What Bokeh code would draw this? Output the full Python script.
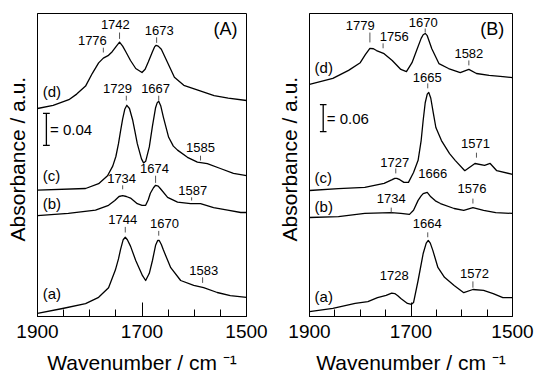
from bokeh.plotting import figure
from bokeh.layouts import row
from bokeh.models import Range1d, FixedTicker
from bokeh.core.properties import value
from bokeh.embed import file_html
from bokeh.resources import INLINE

FONT = "Liberation Sans"

# ---------------- Panel (A) spectra, absorbance in mAbs (offset stacked) ----------------
A_d_wn = [1900, 1870, 1840, 1825, 1808, 1795, 1783, 1774, 1765, 1757, 1749, 1743, 1737, 1731, 1722, 1712, 1700, 1694, 1688, 1680, 1676, 1673, 1669, 1663, 1650, 1638, 1620, 1593, 1562, 1535, 1500]
A_d_y = [260, 264, 271, 278, 288, 304, 317, 323, 326, 331, 338, 343, 338, 331, 320, 310, 305, 309, 318, 331, 337, 339, 338, 334, 316, 299, 289, 283, 276, 273, 270]

A_c_wn = [1900, 1808, 1783, 1766, 1756, 1750, 1745, 1741, 1737, 1733, 1729, 1724, 1718, 1714, 1709, 1701, 1697, 1693, 1686, 1680, 1674, 1671, 1668, 1664, 1659, 1649, 1640, 1632, 1613, 1594, 1575, 1550, 1525, 1500]
A_c_y = [158, 160, 166, 176, 188, 200, 216, 232, 247, 259, 264, 260, 246, 233, 216, 197, 192, 194, 212, 238, 261, 267, 269, 263, 249, 224, 213, 208, 199, 193, 191, 185, 179, 176]

A_b_wn = [1900, 1841, 1789, 1764, 1752, 1744, 1737, 1730, 1722, 1709, 1700, 1693, 1688, 1684, 1678, 1674, 1669, 1665, 1651, 1632, 1607, 1588, 1563, 1536, 1511, 1500]
A_b_y = [126, 129, 133, 139, 145, 150, 151, 150, 148, 141, 139, 139, 146, 154, 161, 164, 163, 160, 149, 143, 141, 141, 136, 133, 130, 130]

A_a_wn = [1900, 1852, 1808, 1783, 1764, 1751, 1745, 1741, 1736, 1732, 1728, 1722, 1712, 1699, 1693, 1686, 1680, 1674, 1670, 1667, 1663, 1659, 1645, 1626, 1601, 1582, 1556, 1531, 1500]
A_a_y = [4, 10, 16, 24, 36, 58, 72, 84, 96, 99, 96, 88, 70, 51, 45, 54, 70, 89, 95, 95, 90, 83, 61, 45, 39, 36, 30, 26, 24]

# ---------------- Panel (B) spectra ----------------
B_d_wn = [1900, 1854, 1823, 1800, 1790, 1781, 1774, 1768, 1753, 1737, 1720, 1709, 1698, 1689, 1680, 1676, 1672, 1668, 1659, 1645, 1626, 1603, 1586, 1571, 1546, 1519, 1500]
B_d_y = [516, 529, 547, 564, 582, 596, 595, 591, 584, 569, 549, 544, 564, 591, 618, 626, 629, 624, 595, 562, 551, 542, 549, 540, 536, 533, 531]

B_c_wn = [1900, 1843, 1791, 1753, 1737, 1732, 1728, 1722, 1714, 1705, 1695, 1686, 1680, 1676, 1672, 1668, 1665, 1661, 1656, 1651, 1640, 1624, 1613, 1594, 1574, 1555, 1544, 1531, 1500]
B_c_y = [280, 284, 287, 296, 304, 307, 307, 304, 298, 298, 320, 347, 391, 436, 475, 494, 498, 485, 452, 420, 391, 362, 347, 324, 340, 336, 340, 324, 316]

B_b_wn = [1900, 1843, 1791, 1739, 1720, 1703, 1695, 1686, 1680, 1676, 1668, 1661, 1652, 1642, 1615, 1596, 1578, 1557, 1533, 1500]
B_b_y = [220, 222, 229, 231, 229, 227, 236, 258, 268, 273, 276, 266, 257, 251, 240, 236, 242, 236, 231, 229]

B_a_wn = [1900, 1854, 1810, 1785, 1766, 1749, 1738, 1732, 1726, 1720, 1707, 1699, 1695, 1686, 1676, 1670, 1666, 1662, 1657, 1647, 1634, 1615, 1596, 1578, 1557, 1538, 1519, 1500]
B_a_y = [11, 18, 29, 33, 42, 47, 52, 51, 46, 40, 29, 27, 31, 80, 140, 163, 169, 163, 147, 109, 87, 69, 53, 60, 58, 51, 42, 42]

# ---------------- Peak annotations ----------------
A_peak_text = ["1776", "1742", "1673", "1729", "1667", "1585", "1734", "1674", "1587", "1744", "1670", "1583"]
A_peak_x = [1795, 1751, 1667, 1747, 1674, 1588, 1739, 1676, 1603, 1737, 1657, 1582]
A_peak_y = [345, 365, 357, 285, 285, 211, 172, 185, 157, 121, 116, 57]
A_tick_x = [1774, 1743, 1672, 1730, 1668, 1588, 1737, 1674, 1605, 1732, 1668, 1584]
A_tick_y0 = [330, 347, 342, 270, 270, 195, 159, 167, 145, 105, 101, 42]
A_tick_y1 = [336, 355, 349, 276, 276, 201, 164, 176, 149, 112, 107, 49]

B_peak_text = ["1779", "1756", "1670", "1582", "1665", "1571", "1727", "1666", "1576", "1734", "1664", "1728", "1572"]
B_peak_x = [1800, 1733, 1676, 1586, 1668, 1573, 1732, 1657, 1580, 1739, 1668, 1733, 1575]
B_peak_y = [647, 622, 653, 584, 531, 384, 342, 318, 284, 262, 207, 91, 96]
B_tick_x = [1781, 1755, 1672, 1586, 1667, 1571, 1730, 1578, 1739, 1667, 1578]
B_tick_y0 = [609, 596, 631, 558, 507, 353, 318, 251, 231, 176, 64]
B_tick_y1 = [631, 607, 640, 569, 518, 364, 329, 262, 242, 187, 78]

curve_names = ["(d)", "(c)", "(b)", "(a)"]
A_name_y = [281, 176, 141, 29]
B_name_y = [553, 309, 244, 44]

major_ticks = [1900, 1700, 1500]
minor_ticks = [1850, 1800, 1750, 1650, 1600, 1550]

A_scale = 40   # mAbs  (= 0.04)
B_scale = 60   # mAbs  (= 0.06)


def make_panel(width, left_border, right_border, ymax, curves, peak_text, peak_x, peak_y,
               tick_x, tick_y0, tick_y1, name_y, tag, scale_val, scale_label, scale_x, scale_y0):
    p = figure(width=width, height=380, output_backend="svg", toolbar_location=None,
               x_range=Range1d(1900, 1500), y_range=Range1d(0, ymax),
               min_border_left=left_border, min_border_right=right_border,
               min_border_top=13, min_border_bottom=64)
    p.background_fill_color = "white"
    p.border_fill_color = "white"
    p.grid.visible = False
    p.outline_line_color = "black"
    p.outline_line_width = 1
    p.outline_line_alpha = 1

    for xs, ys in curves:
        p.line(xs, ys, line_color="black", line_width=1.3, line_join="round")

    p.segment(x0=tick_x, y0=tick_y0, x1=tick_x, y1=tick_y1, line_color="#555555", line_width=1)
    p.text(x=peak_x, y=peak_y, text=peak_text, text_font=value(FONT), text_font_size="13px",
           text_align="center", text_baseline="middle", text_color="black")
    p.text(x=[1890] * 4, y=name_y, text=curve_names, text_font=value(FONT), text_font_size="15px",
           text_align="left", text_baseline="middle", text_color="black")
    p.text(x=[1540], y=[ymax - 0.05 * ymax], text=[tag], text_font=value(FONT), text_font_size="18px",
           text_align="center", text_baseline="middle", text_color="black")

    # scale bar
    cap = 6.5
    p.segment(x0=[scale_x], y0=[scale_y0], x1=[scale_x], y1=[scale_y0 + scale_val],
              line_color="black", line_width=1.3)
    p.segment(x0=[scale_x + cap, scale_x + cap], y0=[scale_y0, scale_y0 + scale_val],
              x1=[scale_x - cap, scale_x - cap], y1=[scale_y0, scale_y0 + scale_val],
              line_color="black", line_width=1.3)
    p.text(x=[scale_x - 7], y=[scale_y0 + scale_val / 2], text=[scale_label], text_font=value(FONT),
           text_font_size="15px", text_align="left", text_baseline="middle", text_color="black")

    # x axis
    p.xaxis.axis_label = "Wavenumber / cm \u207b\u00b9"
    p.xaxis.ticker = FixedTicker(ticks=major_ticks, minor_ticks=minor_ticks)
    p.xaxis.major_tick_in = 14
    p.xaxis.major_tick_out = 0
    p.xaxis.minor_tick_in = 7
    p.xaxis.minor_tick_out = 0
    p.xaxis.major_tick_line_color = "black"
    p.xaxis.minor_tick_line_color = "black"
    p.xaxis.axis_line_color = "black"
    p.xaxis.major_label_text_font = FONT
    p.xaxis.major_label_text_font_size = "19px"
    p.xaxis.major_label_text_color = "black"
    p.xaxis.major_label_standoff = 8
    p.xaxis.axis_label_text_font = FONT
    p.xaxis.axis_label_text_font_size = "21px"
    p.xaxis.axis_label_text_font_style = "normal"
    p.xaxis.axis_label_text_color = "black"
    p.xaxis.axis_label_standoff = 10

    # y axis (no ticks)
    p.yaxis.axis_label = "\u00a0\u00a0Absorbance / a.u."
    p.yaxis.ticker = FixedTicker(ticks=[])
    p.yaxis.major_tick_line_color = None
    p.yaxis.minor_tick_line_color = None
    p.yaxis.axis_line_color = "black"
    p.yaxis.major_label_standoff = 0
    p.yaxis.axis_label_text_font = FONT
    p.yaxis.axis_label_text_font_size = "21px"
    p.yaxis.axis_label_text_font_style = "normal"
    p.yaxis.axis_label_text_color = "black"
    p.yaxis.axis_label_standoff = 9
    return p


pA = make_panel(274, 37, 28, 378.75,
                [(A_d_wn, A_d_y), (A_c_wn, A_c_y), (A_b_wn, A_b_y), (A_a_wn, A_a_y)],
                A_peak_text, A_peak_x, A_peak_y, A_tick_x, A_tick_y0, A_tick_y1,
                A_name_y, "(A)", A_scale, "= 0.04", 1883, 214)
pB = make_panel(262, 29, 24, 673.3,
                [(B_d_wn, B_d_y), (B_c_wn, B_c_y), (B_b_wn, B_b_y), (B_a_wn, B_a_y)],
                B_peak_text, B_peak_x, B_peak_y, B_tick_x, B_tick_y0, B_tick_y1,
                B_name_y, "(B)", B_scale, "= 0.06", 1873, 411)

layout = row(pA, pB)
open("out.html", "w").write(file_html(layout, INLINE))
